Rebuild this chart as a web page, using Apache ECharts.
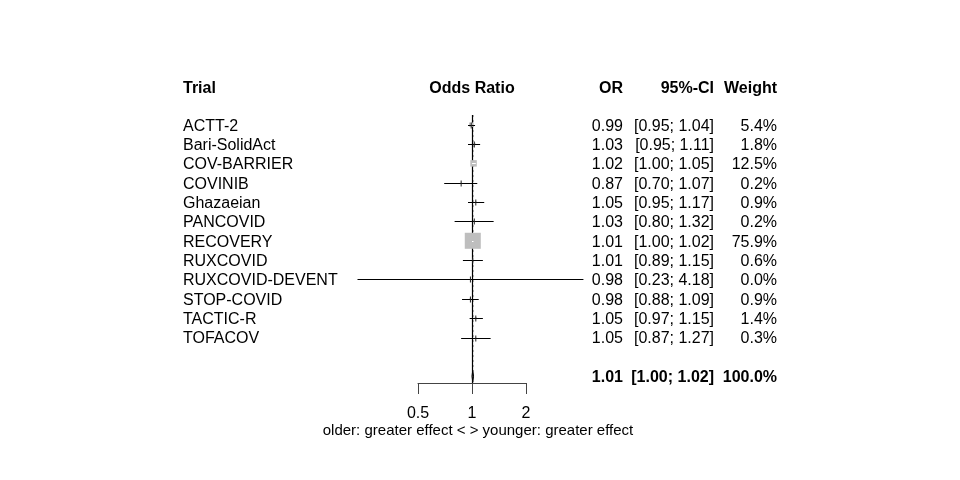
<!DOCTYPE html>
<html>
<head>
<meta charset="utf-8">
<title>Forest plot</title>
<script src="https://cdn.jsdelivr.net/npm/echarts@6/dist/echarts.min.js"></script>
<style>
html, body { margin: 0; padding: 0; background: #fff; }
#container { width: 960px; height: 480px; }
</style>
</head>
<body>
<div id="container"></div>
<script>
// trials, top to bottom
var trials = ['ACTT-2', 'Bari-SolidAct', 'COV-BARRIER', 'COVINIB', 'Ghazaeian', 'PANCOVID',
	'RECOVERY', 'RUXCOVID', 'RUXCOVID-DEVENT', 'STOP-COVID', 'TACTIC-R', 'TOFACOV'];
var oddsRatio = [0.99, 1.03, 1.02, 0.87, 1.05, 1.03, 1.01, 1.01, 0.98, 0.98, 1.05, 1.05];
var ciLower = [0.95, 0.95, 1.00, 0.70, 0.95, 0.80, 1.00, 0.89, 0.23, 0.88, 0.97, 0.87];
var ciUpper = [1.04, 1.11, 1.05, 1.07, 1.17, 1.32, 1.02, 1.15, 4.18, 1.09, 1.15, 1.27];
var weights = [5.4, 1.8, 12.5, 0.2, 0.9, 0.2, 75.9, 0.6, 0.0, 0.9, 1.4, 0.3];
// pooled (common effect) estimate
var pooledOR = [1.01];
var pooledLower = [1.00];
var pooledUpper = [1.02];
var pooledWeight = [100];
// axis
var xTicks = [0.5, 1, 2];
var refValue = 1;
var headers = ['Trial', 'Odds Ratio', 'OR', '95%-CI', 'Weight'];
var axisLabelText = 'older: greater effect < > younger: greater effect';

var FONT = '"Liberation Sans", Arial, Helvetica, sans-serif';
var pooledRow = trials.length + 2;
var yTop = 0.5, yBottom = 14.35;

var chart = echarts.init(document.getElementById('container'));

// 每个试验: 方块(按权重) + 置信区间线
function renderTrial(params, api) {
	var row = api.value(1);
	var c = api.coord([api.value(0), row]);
	var lo = api.coord([api.value(2), row]);
	var hi = api.coord([api.value(3), row]);
	var s = 1.84 * Math.sqrt(api.value(4));
	var y = Math.round(c[1]) + 0.5;
	var inside = lo[0] >= c[0] - s / 2 && hi[0] <= c[0] + s / 2;
	var children = [];
	if (s > 0) {
		children.push({
			type: 'rect',
			shape: { x: c[0] - s / 2, y: c[1] - s / 2, width: s, height: s },
			style: { fill: '#bebebe' }
		});
	}
	children.push({
		type: 'line',
		shape: { x1: lo[0], y1: y, x2: hi[0], y2: y },
		style: { stroke: inside ? '#fff' : '#000', lineWidth: 1 }
	});
	if (!inside) {
		// 小方块处的短竖线
		children.push({
			type: 'line',
			shape: { x1: c[0], y1: y - 3, x2: c[0], y2: y + 3 },
			style: { stroke: '#222', lineWidth: 1 }
		});
	}
	return { type: 'group', children: children };
}

// 合并效应: 参考线, 虚线, 菱形
function renderPooled(params, api) {
	var row = api.value(1);
	var c = api.coord([api.value(0), row]);
	var lo = api.coord([api.value(2), row]);
	var hi = api.coord([api.value(3), row]);
	var top = api.coord([api.value(0), yTop]);
	var refTop = api.coord([refValue, yTop]);
	var refBottom = api.coord([refValue, yBottom]);
	var h = 6;
	var rx = Math.round(refTop[0]) + 0.5;
	return {
		type: 'group',
		children: [
			{
				type: 'line',
				shape: { x1: rx, y1: refTop[1], x2: rx, y2: refBottom[1] },
				style: { stroke: '#000', lineWidth: 1.2 }
			},
			{
				type: 'line',
				shape: { x1: c[0], y1: top[1], x2: c[0], y2: c[1] - h },
				style: { stroke: '#000', lineWidth: 1, lineDash: [2, 3] }
			},
			{
				type: 'polygon',
				shape: { points: [[lo[0], c[1]], [c[0], c[1] - h], [hi[0], c[1]], [c[0], c[1] + h]] },
				style: { fill: '#555', stroke: '#000', lineWidth: 1 }
			}
		]
	};
}

var trialData = trials.map(function (t, i) {
	return [oddsRatio[i], i + 1, ciLower[i], ciUpper[i], weights[i]];
});
var pooledData = [[pooledOR[0], pooledRow, pooledLower[0], pooledUpper[0], pooledWeight[0]]];

var option = {
	animation: false,
	grid: { left: 418, width: 108, top: 115, height: 268 },
	xAxis: {
		type: 'log',
		logBase: 2,
		min: xTicks[0],
		max: xTicks[xTicks.length - 1],
		splitNumber: 2,
		axisLine: { onZero: false, lineStyle: { color: '#444', width: 1 } },
		axisTick: { length: 11, lineStyle: { color: '#444' } },
		axisLabel: {
			color: '#000', fontSize: 16, fontFamily: FONT, margin: 23,
			formatter: function (v) { return String(+(+v).toFixed(2)); }
		},
		splitLine: { show: false }
	},
	yAxis: {
		type: 'value',
		min: yTop,
		max: yBottom,
		inverse: true,
		show: false
	},
	series: [
		{
			type: 'custom',
			renderItem: renderPooled,
			encode: { x: 0, y: 1 },
			data: pooledData,
			silent: true,
			clip: false
		},
		{
			type: 'custom',
			renderItem: renderTrial,
			encode: { x: 0, y: 1 },
			data: trialData,
			silent: true,
			clip: false
		}
	]
};
chart.setOption(option);

// 文字列
function rowY(r) {
	return chart.convertToPixel({ yAxisIndex: 0 }, r) + 1.5;
}
function txt(text, x, y, align, bold, size) {
	return {
		type: 'text',
		silent: true,
		style: {
			text: text, x: x, y: y, fill: '#000',
			align: align, verticalAlign: 'middle',
			font: (bold ? 'bold ' : '') + (size || 16) + 'px ' + FONT
		}
	};
}
var colX = [183, 472, 623, 714, 777];
var colAlign = ['left', 'center', 'right', 'right', 'right'];
var elements = [];
var hy = rowY(-1) + 1.5;
headers.forEach(function (h, i) {
	elements.push(txt(h, colX[i], hy, colAlign[i], true));
});
trials.forEach(function (t, i) {
	var y = rowY(i + 1);
	elements.push(txt(t, colX[0], y, 'left', false));
	elements.push(txt(oddsRatio[i].toFixed(2), colX[2], y, 'right', false));
	elements.push(txt('[' + ciLower[i].toFixed(2) + '; ' + ciUpper[i].toFixed(2) + ']', colX[3], y, 'right', false));
	elements.push(txt(weights[i].toFixed(1) + '%', colX[4], y, 'right', false));
});
var py = rowY(pooledRow);
elements.push(txt(pooledOR[0].toFixed(2), colX[2], py, 'right', true));
elements.push(txt('[' + pooledLower[0].toFixed(2) + '; ' + pooledUpper[0].toFixed(2) + ']', colX[3], py, 'right', true));
elements.push(txt(pooledWeight[0].toFixed(1) + '%', colX[4], py, 'right', true));
elements.push(txt(axisLabelText, 478, 431, 'center', false, 15));

chart.setOption({ graphic: { elements: elements } });
</script>
</body>
</html>
